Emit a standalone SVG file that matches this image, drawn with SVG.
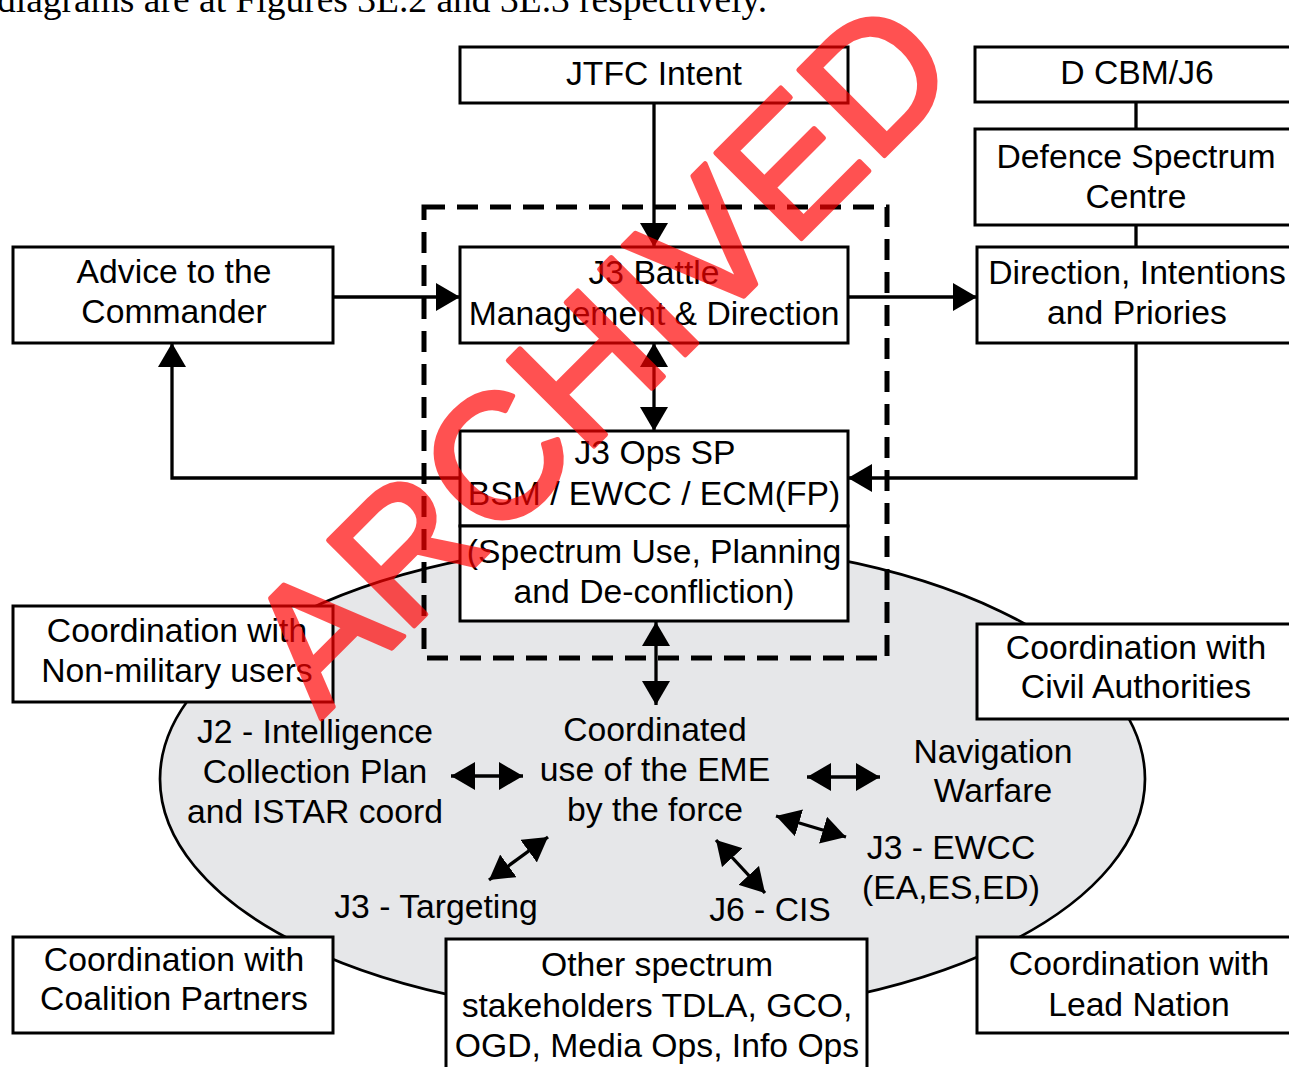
<svg xmlns="http://www.w3.org/2000/svg" width="1289" height="1067" viewBox="0 0 1289 1067">
  <style>
    .box { fill: #ffffff; stroke: #000000; stroke-width: 3; }
    .lbl { font-family: "Liberation Sans", Arial, sans-serif; font-size: 33.7px; fill: #000000; text-anchor: middle; }
    .conn { fill: none; stroke: #000000; stroke-width: 3.3; }
    .arr { marker-end: url(#head); }
    .arr2 { marker-start: url(#head); marker-end: url(#head); }
    .body { font-family: "Liberation Serif", "Times New Roman", serif; font-size: 37.5px; fill: #000000; }
    .stamp { font-family: "Liberation Sans", Arial, sans-serif; font-size: 176px; fill: #ff0000; stroke: #ff0000; stroke-width: 5; stroke-linejoin: round; }
  </style>
  <defs>
    <marker id="head" markerUnits="userSpaceOnUse" markerWidth="24" markerHeight="28" refX="24" refY="14" orient="auto-start-reverse">
      <path d="M0,0 L24,14 L0,28 Z" fill="#000000"/>
    </marker>
  </defs>

  <rect width="1289" height="1067" fill="#ffffff"/>

  <!-- running text line above the figure -->
  <text class="body" x="-3" y="12">diagrams are at Figures 3E.2 and 3E.3 respectively.</text>

  <!-- shared electromagnetic environment -->
  <ellipse id="eme-area" cx="652.5" cy="779" rx="492.5" ry="237" fill="#e6e7e9" stroke="#000000" stroke-width="2.7"/>

  <!-- spectrum management cell boundary -->
  <rect id="sm-cell" x="424" y="207" width="463" height="451" fill="none" stroke="#000000" stroke-width="5" stroke-dasharray="21 12"/>

  <g id="connectors">
    <path class="conn arr" d="M654,103 V247"/>
    <path class="conn arr" d="M333,297 H460"/>
    <path class="conn arr" d="M848,297 H977"/>
    <path class="conn arr2" d="M654,343 V431"/>
    <path class="conn arr" d="M1136,343 V478 H848"/>
    <path class="conn arr" d="M460,478 H172 V343"/>
    <path class="conn arr2" d="M656,622 V705"/>
    <path class="conn" d="M1136,102 V129 M1136,225 V247"/>
    <path class="conn arr2" d="M451,776 H523"/>
    <path class="conn arr2" d="M807,777 H880"/>
    <path class="conn arr2" d="M548,837 L489,880"/>
    <path class="conn arr2" d="M776,816 L846,837"/>
    <path class="conn arr2" d="M716,840 L765,893"/>
  </g>

  <g id="jtfc-intent">
    <rect class="box" x="460" y="47" width="388" height="56"/>
    <text class="lbl" x="654" y="85">JTFC Intent</text>
  </g>

  <g id="d-cbm-j6">
    <rect class="box" x="975" y="47" width="322" height="55"/>
    <text class="lbl" x="1137" y="84">D CBM/J6</text>
  </g>

  <g id="defence-spectrum-centre">
    <rect class="box" x="975" y="129" width="322" height="96"/>
    <text class="lbl" x="1136" y="168">Defence Spectrum</text>
    <text class="lbl" x="1136" y="208">Centre</text>
  </g>

  <g id="direction-intentions">
    <rect class="box" x="977" y="247" width="322" height="96"/>
    <text class="lbl" x="1137" y="284">Direction, Intentions</text>
    <text class="lbl" x="1137" y="324">and Priories</text>
  </g>

  <g id="advice-commander">
    <rect class="box" x="13" y="247" width="320" height="96"/>
    <text class="lbl" x="174" y="283">Advice to the</text>
    <text class="lbl" x="174" y="323">Commander</text>
  </g>

  <g id="j3-battle">
    <rect class="box" x="460" y="247" width="388" height="96"/>
    <text class="lbl" x="654" y="284">J3 Battle</text>
    <text class="lbl" x="654" y="325">Management &amp; Direction</text>
  </g>

  <g id="j3-ops-sp">
    <rect class="box" x="460" y="431" width="388" height="95"/>
    <rect class="box" x="460" y="526" width="388" height="95"/>
    <text class="lbl" x="655" y="464">J3 Ops SP</text>
    <text class="lbl" x="654" y="505">BSM / EWCC / ECM(FP)</text>
    <text class="lbl" x="654" y="563">(Spectrum Use, Planning</text>
    <text class="lbl" x="654" y="603">and De-confliction)</text>
  </g>

  <g id="coordinated-use">
    <text class="lbl" x="655" y="741">Coordinated</text>
    <text class="lbl" x="655" y="781">use of the EME</text>
    <text class="lbl" x="655" y="821">by the force</text>
  </g>

  <g id="j2-intelligence">
    <text class="lbl" x="315" y="743">J2 - Intelligence</text>
    <text class="lbl" x="315" y="783">Collection Plan</text>
    <text class="lbl" x="315" y="823">and ISTAR coord</text>
  </g>

  <g id="navigation-warfare">
    <text class="lbl" x="993" y="763">Navigation</text>
    <text class="lbl" x="993" y="802">Warfare</text>
  </g>

  <g id="j3-ewcc">
    <text class="lbl" x="951" y="859">J3 - EWCC</text>
    <text class="lbl" x="951" y="899">(EA,ES,ED)</text>
  </g>

  <g id="j3-targeting">
    <text class="lbl" x="436" y="918">J3 - Targeting</text>
  </g>

  <g id="j6-cis">
    <text class="lbl" x="770" y="921">J6 - CIS</text>
  </g>

  <g id="coord-non-military">
    <rect class="box" x="13" y="606" width="320" height="96"/>
    <text class="lbl" x="177" y="642">Coordination with</text>
    <text class="lbl" x="177" y="682">Non-military users</text>
  </g>

  <g id="coord-civil">
    <rect class="box" x="977" y="624" width="322" height="95"/>
    <text class="lbl" x="1136" y="659">Coordination with</text>
    <text class="lbl" x="1136" y="698">Civil Authorities</text>
  </g>

  <g id="coord-coalition">
    <rect class="box" x="13" y="937" width="320" height="96"/>
    <text class="lbl" x="174" y="971">Coordination with</text>
    <text class="lbl" x="174" y="1010">Coalition Partners</text>
  </g>

  <g id="other-stakeholders">
    <rect class="box" x="446" y="939" width="421" height="140"/>
    <text class="lbl" x="657" y="976">Other spectrum</text>
    <text class="lbl" x="657" y="1017">stakeholders TDLA, GCO,</text>
    <text class="lbl" x="657" y="1057">OGD, Media Ops, Info Ops</text>
  </g>

  <g id="coord-lead-nation">
    <rect class="box" x="977" y="937" width="322" height="96"/>
    <text class="lbl" x="1139" y="975">Coordination with</text>
    <text class="lbl" x="1139" y="1016">Lead Nation</text>
  </g>

  <!-- status stamp across the page -->
  <g opacity="0.68">
    <text class="stamp" transform="translate(321,719) rotate(-45)">ARCHIVED</text>
  </g>
</svg>
